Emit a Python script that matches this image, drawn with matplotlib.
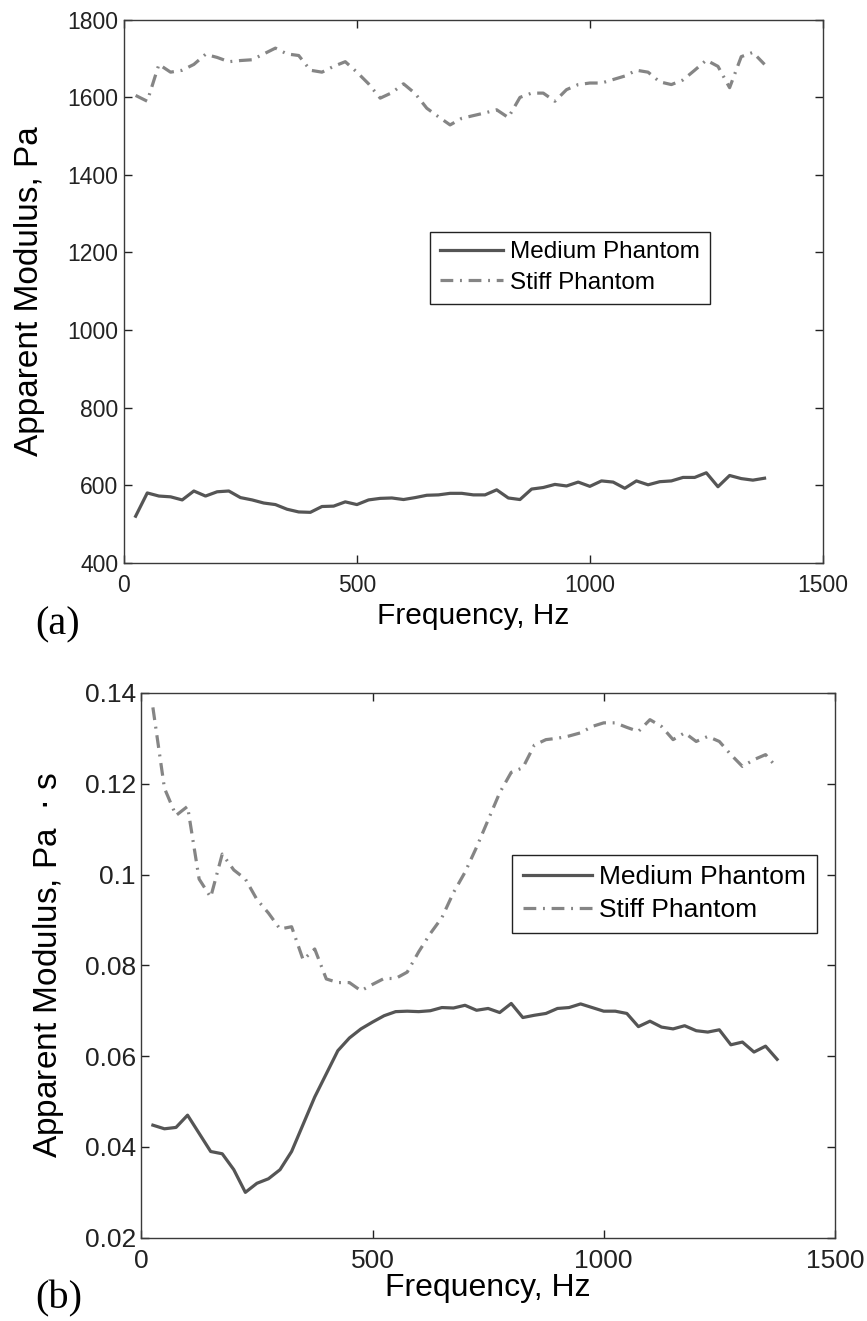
import matplotlib
matplotlib.use("Agg")
import matplotlib.pyplot as plt

plt.rcParams["font.family"] = ["Liberation Sans", "DejaVu Sans"]

# frequency grid, Hz
freq = [25, 50, 75, 100, 125, 150, 175, 200, 225, 250, 275, 300, 325, 350, 375,
        400, 425, 450, 475, 500, 525, 550, 575, 600, 625, 650, 675, 700, 725, 750,
        775, 800, 825, 850, 875, 900, 925, 950, 975, 1000, 1025, 1050, 1075, 1100,
        1125, 1150, 1175, 1200, 1225, 1250, 1275, 1300, 1325, 1350, 1375]

# (a) storage modulus, Pa
medium_a = [520, 580, 572, 570, 562, 585, 572, 583, 585, 568, 562, 554, 550, 538, 531,
            530, 545, 546, 557, 550, 562, 566, 567, 563, 568, 574, 575, 579, 579, 575,
            575, 588, 567, 563, 590, 594, 602, 598, 608, 597, 611, 608, 592, 611,
            601, 609, 611, 620, 620, 632, 596, 625, 617, 613, 618]
stiff_a = [1605, 1590, 1685, 1665, 1670, 1685, 1711, 1703, 1692, 1695, 1697, 1712, 1727, 1712, 1708,
           1670, 1665, 1680, 1692, 1665, 1635, 1598, 1612, 1635, 1610, 1572, 1550, 1529, 1546, 1553,
           1560, 1568, 1548, 1600, 1611, 1611, 1590, 1620, 1633, 1637, 1637, 1646, 1655, 1670,
           1665, 1640, 1633, 1645, 1670, 1696, 1680, 1625, 1705, 1716, 1685]

# (b) Pa*s
medium_b = [0.0448, 0.0440, 0.0443, 0.0470, 0.0430, 0.0390, 0.0385, 0.0350, 0.0300, 0.0320,
            0.0330, 0.0350, 0.0390, 0.0450, 0.0510, 0.0561, 0.0612, 0.0640, 0.0660, 0.0675,
            0.0689, 0.0698, 0.0699, 0.0698, 0.0700, 0.0707, 0.0706, 0.0712, 0.0701, 0.0705,
            0.0696, 0.0716, 0.0685, 0.0690, 0.0694, 0.0705, 0.0707, 0.0715, 0.0707, 0.0699,
            0.0699, 0.0694, 0.0665, 0.0677, 0.0664, 0.0660, 0.0667, 0.0656, 0.0653, 0.0658,
            0.0625, 0.0631, 0.0609, 0.0622, 0.0593]
stiff_b = [0.1368, 0.1190, 0.1130, 0.1150, 0.0990, 0.0950, 0.1045, 0.1010, 0.0990, 0.0945,
           0.0915, 0.0880, 0.0885, 0.0812, 0.0836, 0.0770, 0.0762, 0.0762, 0.0744, 0.0758,
           0.0771, 0.0771, 0.0785, 0.0830, 0.0870, 0.0905, 0.0960, 0.1005, 0.1060, 0.1120,
           0.1180, 0.1225, 0.1235, 0.1285, 0.1297, 0.1300, 0.1305, 0.1312, 0.1326, 0.1334,
           0.1334, 0.1324, 0.1315, 0.1341, 0.1326, 0.1297, 0.1312, 0.1293, 0.1304, 0.1293,
           0.1264, 0.1238, 0.1253, 0.1264, 0.1235]

xticks = [0, 500, 1000, 1500]
yticks_a = [400, 600, 800, 1000, 1200, 1400, 1600, 1800]
yticks_b = [0.02, 0.04, 0.06, 0.08, 0.1, 0.12, 0.14]
ylabels_b = ["0.02", "0.04", "0.06", "0.08", "0.1", "0.12", "0.14"]

MED_C = "#555555"
STIFF_C = "#858585"
DASH = [4, 2.1, 0.6, 2.1]

fig = plt.figure(figsize=(8.67, 13.21), dpi=100)
ax1 = fig.add_axes([0.143, 0.574, 0.806, 0.411])
ax2 = fig.add_axes([0.163, 0.063, 0.800, 0.4125])


def style_axes(ax, tick_fs):
    for s in ax.spines.values():
        s.set_color("#3a3a3a")
        s.set_linewidth(1.0)
    ax.tick_params(direction="in", length=6, width=1, colors="#222222",
                   labelsize=tick_fs, top=True, right=True)
    ax.tick_params(axis="y", pad=4)
    ax.tick_params(axis="x", pad=8)


def add_legend(ax, anchor, fs):
    leg = ax.legend(loc="upper left", bbox_to_anchor=anchor, fontsize=fs,
                    fancybox=False, framealpha=1, edgecolor="#222222",
                    handlelength=2.6, handletextpad=0.3, borderpad=0.4,
                    labelspacing=0.35, borderaxespad=0)
    leg.get_frame().set_linewidth(1.0)


# panel (a)
ax1.plot(freq, medium_a, color=MED_C, lw=2.3, label="Medium Phantom")
ax1.plot(freq, stiff_a, color=STIFF_C, lw=2.3, dashes=DASH, label="Stiff Phantom")
ax1.set_xlim(0, 1500)
ax1.set_ylim(400, 1800)
ax1.set_xticks(xticks)
ax1.set_yticks(yticks_a)
style_axes(ax1, 16.5)
ax1.set_xlabel("Frequency, Hz", fontsize=21.5, labelpad=4)
ax1.set_ylabel("Apparent Modulus, Pa", fontsize=24)
ax1.yaxis.set_label_coords(-0.113, 0.5)
add_legend(ax1, (0.438, 0.61), 17.5)

# panel (b)
ax2.plot(freq, medium_b, color=MED_C, lw=2.3, label="Medium Phantom")
ax2.plot(freq, stiff_b, color=STIFF_C, lw=2.3, dashes=DASH, label="Stiff Phantom")
ax2.set_xlim(0, 1500)
ax2.set_ylim(0.02, 0.14)
ax2.set_xticks(xticks)
ax2.set_yticks(yticks_b)
ax2.set_yticklabels(ylabels_b)
style_axes(ax2, 19)
ax2.set_xlabel("Frequency, Hz", fontsize=23, labelpad=0)
ax2.set_ylabel("Apparent Modulus, Pa  $\\cdot$ s", fontsize=24)
ax2.yaxis.set_label_coords(-0.108, 0.5)
add_legend(ax2, (0.535, 0.703), 19)

fig.text(0.066, 0.527, "(a)", fontsize=29, family="Liberation Serif", ha="center", va="center")
fig.text(0.068, 0.017, "(b)", fontsize=29, family="Liberation Serif", ha="center", va="center")

fig.savefig("out.png", dpi=100)
